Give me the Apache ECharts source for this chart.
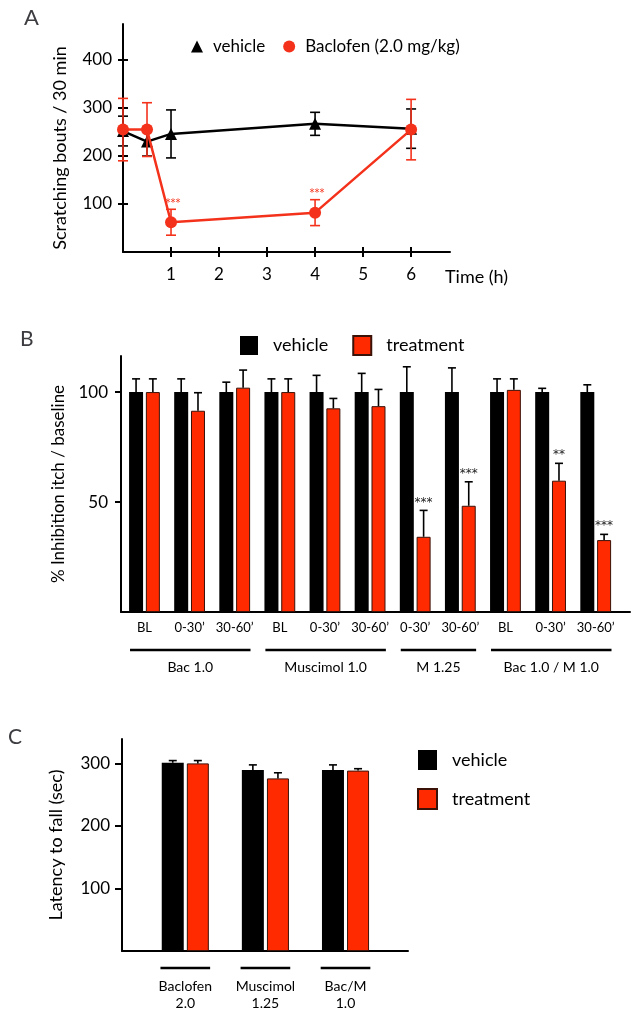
<!DOCTYPE html>
<html lang="en">
<head>
<meta charset="UTF-8">
<title>Scratching / inhibition / latency</title>
<script src="https://cdn.jsdelivr.net/npm/echarts@6/dist/echarts.min.js"></script>
<style>html,body{margin:0;padding:0;background:#fff;}</style>
</head>
<body>
<div id="chart" style="width:640px;height:1018px;"></div>
<script>
// ---- panel A : time course
var timeA = [0, 0.5, 1, 4, 6];
var vehicleA = [252, 230, 246, 267, 257];
var vehicleErrA = [31, 30, 50, 24, 41];
var bacA = [255, 255, 62, 82, 255];
var bacErrA = [65, 56, 27, 27, 63];
var sigA = ['', '', '***', '***', ''];
var xTicksA = [1, 2, 3, 4, 5, 6];
var yTicksA = [100, 200, 300, 400];

// ---- panel B : % inhibition
var subLabelsB = ['BL', '0-30’', '30-60’', 'BL', '0-30’', '30-60’', '0-30’', '30-60’', 'BL', '0-30’', '30-60’'];
var vehicleB = [100, 100, 100, 100, 100, 100, 100, 100, 100, 100, 100];
var vehicleErrB = [6, 6, 4.5, 6, 7.6, 8.5, 11.5, 11, 6, 1.7, 3.3];
var treatB = [100, 91.5, 102, 100, 92.6, 93.6, 34.2, 48.3, 101, 59.7, 32.7];
var treatErrB = [6, 8.2, 8, 6, 4.5, 7.6, 12, 10.9, 5, 7.9, 2.6];
var sigB = ['', '', '', '', '', '', '***', '***', '', '**', '***'];
var groupNamesB = ['Bac 1.0', 'Muscimol 1.0', 'M 1.25', 'Bac 1.0 / M 1.0'];
var groupStartB = [0, 3, 6, 8];
var groupEndB = [2, 5, 7, 10];
var yTicksB = [50, 100];

// ---- panel C : latency to fall
var catC = ['Baclofen\n2.0', 'Muscimol\n1.25', 'Bac/M\n1.0'];
var vehicleC = [301, 289.6, 289.6];
var vehicleErrC = [3.5, 8, 8];
var treatC = [300, 276, 288.5];
var treatErrC = [4.5, 9, 3];
var yTicksC = [100, 200, 300];

var RED = '#ff2a00';
var LINE_RED = '#f4321c';
var FONT = 'Lato';
var barWB = 14, gapB = 0.2;
var barWC = 22, gapC = 0.14;
var offB = (barWB + barWB * gapB) / 2;
var offC = (barWC + barWC * gapC) / 2;

var myChart = echarts.init(document.getElementById('chart'));

function idx(arr) { return arr.map(function (v, i) { return i; }); }
function pairs(xs, ys) { return ys.map(function (v, i) { return [xs[i], v]; }); }

// symmetric error bars for panel A
function errA(values, errs, color, sig, z) {
    return {
        type: 'custom', xAxisIndex: 0, yAxisIndex: 0, z: z, clip: false, silent: true,
        data: values.map(function (v, i) { return [timeA[i], v, errs[i]]; }),
        renderItem: function (params, api) {
            var top = api.coord([api.value(0), api.value(1) + api.value(2)]);
            var bot = api.coord([api.value(0), api.value(1) - api.value(2)]);
            var x = top[0];
            var st = { stroke: color, lineWidth: 1.6 };
            var kids = [
                { type: 'line', shape: { x1: x, y1: top[1], x2: x, y2: bot[1] }, style: st },
                { type: 'line', shape: { x1: x - 5, y1: top[1], x2: x + 5, y2: top[1] }, style: st },
                { type: 'line', shape: { x1: x - 5, y1: bot[1], x2: x + 5, y2: bot[1] }, style: st }
            ];
            var s = sig ? sig[params.dataIndex] : '';
            if (s) {
                kids.push({ type: 'text', x: x + 2, y: top[1] - 1,
                    style: { text: s, fill: color, fontSize: 10, fontFamily: 'DejaVu Sans', align: 'center', verticalAlign: 'bottom' } });
            }
            return { type: 'group', children: kids };
        }
    };
}

// upward error bars for bar panels
function errUp(values, errs, side, off, xi, cap, sig) {
    return {
        type: 'custom', xAxisIndex: xi, yAxisIndex: xi, z: 5, clip: false, silent: true,
        data: values.map(function (v, i) { return [i, v, errs[i]]; }),
        renderItem: function (params, api) {
            var base = api.coord([api.value(0), api.value(1)]);
            var top = api.coord([api.value(0), api.value(1) + api.value(2)]);
            var x = base[0] + side * off;
            var st = { stroke: '#000', lineWidth: 1.6 };
            var kids = [
                { type: 'line', shape: { x1: x, y1: base[1], x2: x, y2: top[1] }, style: st },
                { type: 'line', shape: { x1: x - cap, y1: top[1], x2: x + cap, y2: top[1] }, style: st }
            ];
            var s = sig ? sig[params.dataIndex] : '';
            if (s) {
                kids.push({ type: 'text', x: x, y: top[1] - 2,
                    style: { text: s, fill: '#222', fontSize: 12, fontFamily: 'DejaVu Sans', align: 'center', verticalAlign: 'bottom' } });
            }
            return { type: 'group', children: kids };
        }
    };
}

// bracket lines under the x axis
function underLines(starts, ends, names, xi, padL, padR, dy, textDy) {
    return {
        type: 'custom', xAxisIndex: xi, yAxisIndex: xi, clip: false, silent: true,
        data: starts.map(function (s, i) { return [s, ends[i]]; }),
        renderItem: function (params, api) {
            var a = api.coord([api.value(0) - padL, 0]);
            var b = api.coord([api.value(1) + padR, 0]);
            var y = a[1] + dy;
            var kids = [{ type: 'line', shape: { x1: a[0], y1: y, x2: b[0], y2: y }, style: { stroke: '#000', lineWidth: 2.5 } }];
            if (names) {
                kids.push({ type: 'text', x: (a[0] + b[0]) / 2, y: y + textDy,
                    style: { text: names[params.dataIndex], fill: '#000', fontSize: 14, fontFamily: FONT, align: 'center', verticalAlign: 'middle' } });
            }
            return { type: 'group', children: kids };
        }
    };
}

var axLine = { lineStyle: { color: '#000', width: 2 } };
var lbl = { color: '#000', fontFamily: FONT };

myChart.setOption({
    animation: false,
    textStyle: { fontFamily: FONT, color: '#000' },
    title: [
        { text: 'A', left: 24, top: 7, padding: 0, textStyle: { fontSize: 22, fontWeight: 'normal', fontFamily: FONT } },
        { text: 'B', left: 20, top: 329, padding: 0, textStyle: { fontSize: 21, fontWeight: 'normal', fontFamily: FONT } },
        { text: 'C', left: 8, top: 727, padding: 0, textStyle: { fontSize: 21, fontWeight: 'normal', fontFamily: FONT } }
    ],
    legend: [
        {
            data: [{ name: 'vehicle|A', icon: 'triangle' }, { name: 'Baclofen (2.0 mg/kg)|A', icon: 'circle' }],
            left: 186, top: 33, itemWidth: 12, itemHeight: 12, itemGap: 18, selectedMode: false,
            formatter: function (n) { return n.split('|')[0]; },
            textStyle: { fontSize: 17, fontFamily: FONT, color: '#000', padding: [0, 0, 0, 5] }
        },
        {
            data: [{ name: 'vehicle|B', icon: 'rect' }, { name: 'treatment|B', icon: 'rect' }],
            left: 235, top: 330, itemWidth: 18, itemHeight: 19, itemGap: 24, selectedMode: false,
            formatter: function (n) { return n.split('|')[0]; },
            textStyle: { fontSize: 18, fontFamily: FONT, color: '#000', padding: [0, 0, 0, 10] }
        },
        {
            data: [{ name: 'vehicle|C', icon: 'rect' }, { name: 'treatment|C', icon: 'rect' }], orient: 'vertical',
            left: 412, top: 745, itemWidth: 19, itemHeight: 20, itemGap: 18, selectedMode: false,
            formatter: function (n) { return n.split('|')[0]; },
            textStyle: { fontSize: 18, fontFamily: FONT, color: '#000', padding: [0, 0, 0, 10] }
        }
    ],
    grid: [
        { left: 123, top: 24, width: 327, height: 228 },
        { left: 121, top: 356, width: 509, height: 256 },
        { left: 122, top: 739, width: 286, height: 212 },
        { left: 123, top: 24, width: 327, height: 228 }
    ],
    xAxis: [
        {
            gridIndex: 0, type: 'value', min: 0, max: 6.81, splitLine: { show: false },
            axisLine: axLine,
            axisTick: { customValues: xTicksA, length: 5, lineStyle: { color: '#000', width: 2 } },
            axisLabel: Object.assign({ customValues: xTicksA, margin: 14, fontSize: 17 }, lbl),
            name: 'Time (h)', nameLocation: 'end', nameGap: -5,
            nameTextStyle: { fontSize: 18, fontFamily: FONT, color: '#000', verticalAlign: 'top', padding: [16, 0, 0, 0] }
        },
        {
            gridIndex: 3, type: 'value', min: 0, max: 6.81, splitLine: { show: false },
            axisLine: { show: false }, axisLabel: { show: false },
            axisTick: { inside: true, customValues: xTicksA, length: 5, lineStyle: { color: '#000', width: 2 } }
        },
        {
            gridIndex: 1, type: 'value', min: -0.52, max: 10.76, splitLine: { show: false },
            axisLine: axLine, axisTick: { show: false },
            axisLabel: Object.assign({ customValues: idx(subLabelsB), margin: 9, fontSize: 13,
                formatter: function (v) { return subLabelsB[v]; } }, lbl)
        },
        {
            gridIndex: 2, type: 'value', min: -0.79, max: 2.78, splitLine: { show: false },
            axisLine: axLine, axisTick: { show: false },
            axisLabel: Object.assign({ customValues: idx(catC), margin: 27, fontSize: 14, lineHeight: 17,
                formatter: function (v) { return catC[v]; } }, lbl)
        }
    ],
    yAxis: [
        {
            gridIndex: 0, type: 'value', min: 0, max: 475, splitLine: { show: false },
            axisLine: axLine,
            axisTick: { customValues: yTicksA, length: 5, lineStyle: { color: '#000', width: 2 } },
            axisLabel: Object.assign({ customValues: yTicksA, margin: 11, fontSize: 17 }, lbl),
            name: 'Scratching bouts / 30 min', nameLocation: 'middle', nameGap: 54,
            nameTextStyle: { fontSize: 18, fontFamily: FONT, color: '#000', padding: [0, 20, 0, 0] }
        },
        {
            gridIndex: 3, type: 'value', min: 0, max: 475, splitLine: { show: false },
            axisLine: { show: false }, axisLabel: { show: false },
            axisTick: { inside: true, customValues: yTicksA, length: 5, lineStyle: { color: '#000', width: 2 } }
        },
        {
            gridIndex: 1, type: 'value', min: 0, max: 116.4, splitLine: { show: false },
            axisLine: { onZero: false, lineStyle: { color: '#000', width: 2 } },
            axisTick: { customValues: yTicksB, length: 6, lineStyle: { color: '#000', width: 2 } },
            axisLabel: Object.assign({ customValues: yTicksB, margin: 13, fontSize: 17 }, lbl),
            name: '% Inhibition itch / baseline', nameLocation: 'middle', nameGap: 54,
            nameTextStyle: { fontSize: 17, fontFamily: FONT, color: '#000' }
        },
        {
            gridIndex: 2, type: 'value', min: 0, max: 339, splitLine: { show: false },
            axisLine: { onZero: false, lineStyle: { color: '#000', width: 2 } },
            axisTick: { customValues: yTicksC, length: 7, lineStyle: { color: '#000', width: 2 } },
            axisLabel: Object.assign({ customValues: yTicksC, margin: 12, fontSize: 17 }, lbl),
            name: 'Latency to fall (sec)', nameLocation: 'middle', nameGap: 57,
            nameTextStyle: { fontSize: 18, fontFamily: FONT, color: '#000' }
        }
    ],
    series: [
        // A
        errA(vehicleA, vehicleErrA, '#000', null, 2),
        {
            name: 'vehicle|A', type: 'line', xAxisIndex: 0, yAxisIndex: 0, z: 3,
            data: pairs(timeA, vehicleA), symbol: 'triangle', symbolSize: 12,
            itemStyle: { color: '#000' }, lineStyle: { color: '#000', width: 2.5 }
        },
        {
            name: 'Baclofen (2.0 mg/kg)|A', type: 'line', xAxisIndex: 0, yAxisIndex: 0, z: 4,
            data: pairs(timeA, bacA), symbol: 'circle', symbolSize: 12,
            itemStyle: { color: LINE_RED }, lineStyle: { color: LINE_RED, width: 2.5 }
        },
        errA(bacA, bacErrA, LINE_RED, sigA, 6),
        // B
        {
            name: 'vehicle|B', type: 'bar', xAxisIndex: 2, yAxisIndex: 2,
            data: pairs(idx(vehicleB), vehicleB), barWidth: barWB, barGap: (gapB * 100) + '%',
            itemStyle: { color: '#000' }
        },
        {
            name: 'treatment|B', type: 'bar', xAxisIndex: 2, yAxisIndex: 2,
            data: pairs(idx(treatB), treatB), barWidth: barWB, barGap: (gapB * 100) + '%',
            itemStyle: { color: RED, borderColor: '#3a1208', borderWidth: 1 }
        },
        errUp(vehicleB, vehicleErrB, -1, offB, 2, 4, null),
        errUp(treatB, treatErrB, 1, offB, 2, 4, sigB),
        underLines(groupStartB, groupEndB, groupNamesB, 2, 0.32, 0.35, 38, 17),
        // C
        {
            name: 'vehicle|C', type: 'bar', xAxisIndex: 3, yAxisIndex: 3,
            data: pairs(idx(vehicleC), vehicleC), barWidth: barWC, barGap: (gapC * 100) + '%',
            itemStyle: { color: '#000' }
        },
        {
            name: 'treatment|C', type: 'bar', xAxisIndex: 3, yAxisIndex: 3,
            data: pairs(idx(treatC), treatC), barWidth: barWC, barGap: (gapC * 100) + '%',
            itemStyle: { color: RED, borderColor: '#3a1208', borderWidth: 1 }
        },
        errUp(vehicleC, vehicleErrC, -1, offC, 3, 4, null),
        errUp(treatC, treatErrC, 1, offC, 3, 4, null),
        underLines(idx(catC), idx(catC), null, 3, 0.31, 0.31, 17, 0)
    ]
});
</script>
</body>
</html>
